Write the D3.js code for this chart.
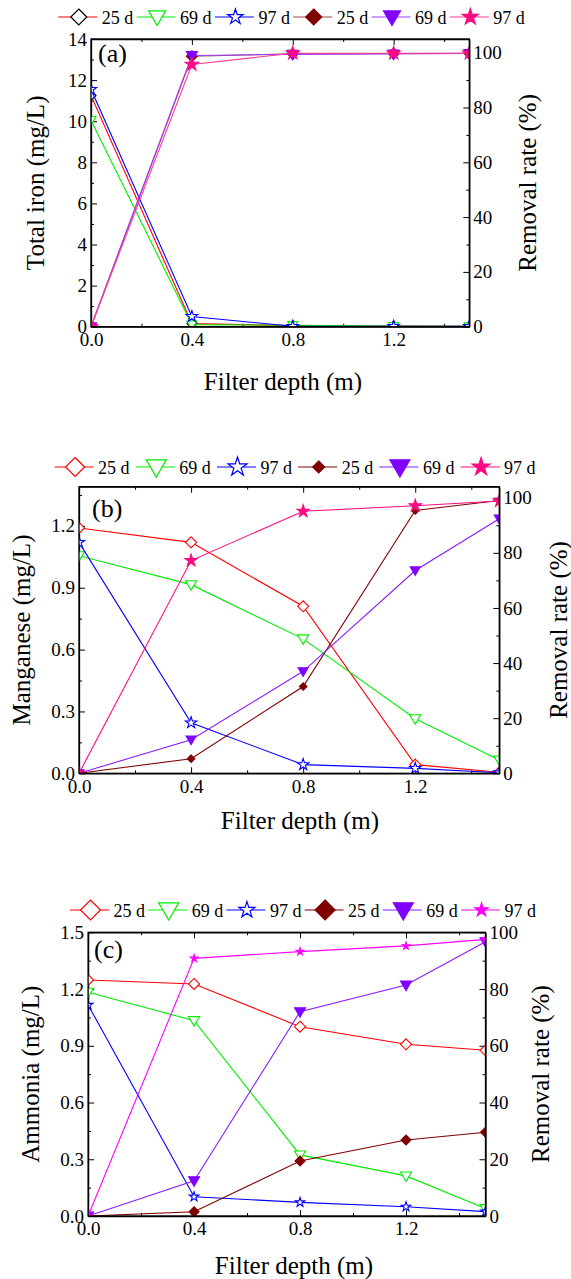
<!DOCTYPE html>
<html><head><meta charset="utf-8">
<script src="https://cdn.jsdelivr.net/npm/d3@7"></script>
<style>
body{margin:0;background:#fff}
</style>
</head><body>
<svg id="chart" width="571" height="1279"></svg>
<script>
// ---------------- data ----------------
const depth = [0, 0.4, 0.8, 1.2, 1.5];
const legendLabels = ["25 d", "69 d", "97 d", "25 d", "69 d", "97 d"];
const xTicks = [0, 0.4, 0.8, 1.2];
const xMinorTicks = [0.2, 0.6, 1.0, 1.4];
const removalTicks = [0, 20, 40, 60, 80, 100];
const removalMinorTicks = [10, 30, 50, 70, 90];

// (a) Total iron
const ironConc25 = [11.25, 0.15, 0.05, 0.03, 0.02];
const ironConc69 = [10.05, 0.10, 0.07, 0.03, 0.02];
const ironConc97 = [11.55, 0.50, 0.02, 0.02, 0.02];
const ironRem25 = [0, 98.7, 99.6, 99.7, 99.8];
const ironRem69 = [0, 99.0, 99.4, 99.5, 99.7];
const ironRem97 = [0, 95.7, 99.8, 99.8, 99.8];
const ironTicks = [0, 2, 4, 6, 8, 10, 12, 14];
const ironMinorTicks = [1, 3, 5, 7, 9, 11, 13];

// (b) Manganese
const mnConc25 = [1.19, 1.12, 0.81, 0.042, 0.005];
const mnConc69 = [1.055, 0.915, 0.652, 0.265, 0.065];
const mnConc97 = [1.12, 0.245, 0.042, 0.024, 0.003];
const mnRem25 = [0, 5.3, 31.5, 95.4, 99.0];
const mnRem69 = [0, 12.2, 37.0, 73.6, 92.4];
const mnRem97 = [0, 77.2, 95.1, 97.1, 98.8];
const mnTicks = [0, 0.3, 0.6, 0.9, 1.2];
const mnMinorTicks = [0.15, 0.45, 0.75, 1.05, 1.35];

// (c) Ammonia
const nhConc25 = [1.248, 1.227, 1.001, 0.908, 0.876];
const nhConc69 = [1.183, 1.033, 0.323, 0.212, 0.04];
const nhConc97 = [1.116, 0.102, 0.072, 0.049, 0.023];
const nhRem25 = [0, 1.5, 19.4, 26.8, 29.5];
const nhRem69 = [0, 12.4, 72.0, 81.4, 96.7];
const nhRem97 = [0, 90.8, 93.2, 95.2, 97.5];
const nhTicks = [0, 0.3, 0.6, 0.9, 1.2, 1.5];
const nhMinorTicks = [0.15, 0.45, 0.75, 1.05, 1.35];

// ---------------- drawing ----------------
const FONT = '"Liberation Serif"';
const svg = d3.select("#chart");

function shapePath(type, r) {
  if (type === "diamond") return `M0,${-r}L${r},0L0,${r}L${-r},0Z`;
  if (type === "tri") return `M${-r},${-r*0.72}L${r},${-r*0.72}L0,${r}Z`;
  if (type === "star") return d3.symbol(d3.symbolStar).size(r*r/0.8908)();
  return "";
}

function txt(sel, size) {
  return sel.style("font-family", FONT).style("font-size", size + "px").style("fill", "#000");
}

let clipId = 0;
function panel(cfg) {
  const {left, right, top, bottom} = cfg.box;
  const g = svg.append("g");
  const x = d3.scaleLinear().domain([0, 1.5]).range([left, right]);
  const yL = d3.scaleLinear().domain(cfg.leftDomain).range([bottom, top]);
  const yR = d3.scaleLinear().domain(cfg.rightDomain).range([bottom, top]);

  function styleAxis(sel, labels) {
    sel.select(".domain").attr("stroke", "#000").attr("stroke-width", 1.3);
    sel.selectAll(".tick line").attr("stroke", "#000").attr("stroke-width", 1);
    if (!labels) sel.selectAll(".tick text").remove();
    else txt(sel.selectAll(".tick text"), 19);
  }
  // bottom
  g.append("g").attr("transform", `translate(0,${bottom})`)
    .call(d3.axisBottom(x).tickValues(xTicks).tickFormat(d3.format(".1f")).tickSize(-6).tickSizeOuter(0).tickPadding(6))
    .call(s => styleAxis(s, true));
  g.append("g").attr("transform", `translate(0,${bottom})`)
    .call(d3.axisBottom(x).tickValues(xMinorTicks).tickSize(-3).tickSizeOuter(0))
    .call(s => { styleAxis(s, false); s.select(".domain").remove(); });
  // top
  g.append("g").attr("transform", `translate(0,${top})`)
    .call(d3.axisTop(x).tickValues(xTicks).tickSize(-6).tickSizeOuter(0))
    .call(s => styleAxis(s, false));
  g.append("g").attr("transform", `translate(0,${top})`)
    .call(d3.axisTop(x).tickValues(xMinorTicks).tickSize(-3).tickSizeOuter(0))
    .call(s => { styleAxis(s, false); s.select(".domain").remove(); });
  // left
  g.append("g").attr("transform", `translate(${left},0)`)
    .call(d3.axisLeft(yL).tickValues(cfg.leftTicks).tickFormat(cfg.leftFmt).tickSize(-6).tickSizeOuter(0).tickPadding(4))
    .call(s => styleAxis(s, true));
  g.append("g").attr("transform", `translate(${left},0)`)
    .call(d3.axisLeft(yL).tickValues(cfg.leftMinor).tickSize(-3).tickSizeOuter(0))
    .call(s => { styleAxis(s, false); s.select(".domain").remove(); });
  // right
  g.append("g").attr("transform", `translate(${right},0)`)
    .call(d3.axisRight(yR).tickValues(removalTicks).tickSize(-6).tickSizeOuter(0).tickPadding(4))
    .call(s => styleAxis(s, true));
  g.append("g").attr("transform", `translate(${right},0)`)
    .call(d3.axisRight(yR).tickValues(removalMinorTicks).tickSize(-3).tickSizeOuter(0))
    .call(s => { styleAxis(s, false); s.select(".domain").remove(); });

  // clip
  const cid = "clip" + (clipId++);
  g.append("clipPath").attr("id", cid).append("rect")
    .attr("x", left).attr("y", top).attr("width", right - left).attr("height", bottom - top);
  const plot = g.append("g").attr("clip-path", `url(#${cid})`);

  cfg.series.forEach(s => {
    const y = s.axis === "L" ? yL : yR;
    const pts = depth.map((d, i) => [x(d), y(s.values[i])]);
    plot.append("path").attr("d", d3.line()(pts)).attr("fill", "none")
      .attr("stroke", s.line).attr("stroke-width", 1.1);
    plot.selectAll(null).data(pts).enter().append("path")
      .attr("d", shapePath(s.shape, s.r))
      .attr("transform", p => `translate(${p[0]},${p[1]})`)
      .attr("fill", s.fill).attr("stroke", s.stroke).attr("stroke-width", 1.1);
  });

  // frame on top
  g.append("rect").attr("x", left).attr("y", top).attr("width", right - left).attr("height", bottom - top)
    .attr("fill", "none").attr("stroke", "#000").attr("stroke-width", 1.3);

  // legend
  cfg.series.forEach((s, i) => {
    const lx = cfg.legend.x + i * cfg.legend.step;
    const ly = cfg.legend.y;
    g.append("line").attr("x1", lx).attr("x2", lx + 39).attr("y1", ly).attr("y2", ly)
      .attr("stroke", s.line).attr("stroke-width", 1.1);
    g.append("path").attr("d", shapePath(s.shape, s.lr))
      .attr("transform", `translate(${lx + 20.5},${ly})`)
      .attr("fill", s.fill).attr("stroke", s.stroke).attr("stroke-width", 1.2);
    txt(g.append("text").attr("x", lx + 43.5).attr("y", ly + 6.5), 18).text(legendLabels[i]);
  });

  // panel tag
  txt(g.append("text").attr("x", cfg.tag.x).attr("y", cfg.tag.y), 26).text(cfg.tag.text);

  // titles
  txt(g.append("text").attr("text-anchor", "middle")
    .attr("transform", `translate(${cfg.leftTitleX},${(top + bottom) / 2}) rotate(-90)`)
    .attr("dy", "0.35em"), 25).text(cfg.leftTitle);
  txt(g.append("text").attr("text-anchor", "middle")
    .attr("transform", `translate(${cfg.rightTitleX},${(top + bottom) / 2}) rotate(-90)`)
    .attr("dy", "0.35em"), 25).text("Removal rate (%)");
  txt(g.append("text").attr("text-anchor", "middle")
    .attr("x", cfg.xTitleX).attr("y", cfg.xTitleY), 25).text("Filter depth (m)");
}

panel({
  box: {left: 91, right: 469.3, top: 39, bottom: 326.7},
  leftDomain: [0, 14], rightDomain: [0, 105],
  leftTicks: ironTicks, leftMinor: ironMinorTicks, leftFmt: d3.format("d"),
  leftTitle: "Total iron (mg/L)", leftTitleX: 35, rightTitleX: 527, xTitleX: 283, xTitleY: 390,
  tag: {text: "(a)", x: 98, y: 62},
  legend: {x: 58.3, y: 17, step: 78.3},
  series: [
    {values: ironConc25, axis: "L", shape: "diamond", fill: "#fff", stroke: "#000", line: "#ff0000", r: 5, lr: 8},
    {values: ironConc69, axis: "L", shape: "tri", fill: "#fff", stroke: "#00ee00", line: "#00ee00", r: 5, lr: 8.5},
    {values: ironConc97, axis: "L", shape: "star", fill: "#fff", stroke: "#0000ff", line: "#0000ff", r: 6, lr: 8},
    {values: ironRem25, axis: "R", shape: "diamond", fill: "#800000", stroke: "#800000", line: "#a04848", r: 5.5, lr: 8},
    {values: ironRem69, axis: "R", shape: "tri", fill: "#8000ff", stroke: "#8000ff", line: "#9a3cff", r: 5.5, lr: 8.5},
    {values: ironRem97, axis: "R", shape: "star", fill: "#ff0a80", stroke: "#ff0a80", line: "#ff3c96", r: 7, lr: 8.5}
  ]
});

panel({
  box: {left: 79, right: 499.3, top: 486.7, bottom: 773.3},
  leftDomain: [0, 1.39], rightDomain: [0, 104],
  leftTicks: mnTicks, leftMinor: mnMinorTicks, leftFmt: d3.format(".1f"),
  leftTitle: "Manganese (mg/L)", leftTitleX: 21.5, rightTitleX: 558, xTitleX: 300, xTitleY: 829,
  tag: {text: "(b)", x: 92, y: 517},
  legend: {x: 54.6, y: 467, step: 81.2},
  series: [
    {values: mnConc25, axis: "L", shape: "diamond", fill: "#fff", stroke: "#ff0000", line: "#ff0000", r: 5.5, lr: 9.5},
    {values: mnConc69, axis: "L", shape: "tri", fill: "#fff", stroke: "#00ee00", line: "#00ee00", r: 5.5, lr: 10},
    {values: mnConc97, axis: "L", shape: "star", fill: "#fff", stroke: "#0000ff", line: "#0000ff", r: 6, lr: 10},
    {values: mnRem25, axis: "R", shape: "diamond", fill: "#800000", stroke: "#800000", line: "#800000", r: 3.8, lr: 6},
    {values: mnRem69, axis: "R", shape: "tri", fill: "#8000ff", stroke: "#8000ff", line: "#8a1cff", r: 5, lr: 10},
    {values: mnRem97, axis: "R", shape: "star", fill: "#ff0a80", stroke: "#ff0a80", line: "#ff0a80", r: 6.5, lr: 9.5}
  ]
});

panel({
  box: {left: 88.1, right: 485.5, top: 932.3, bottom: 1216},
  leftDomain: [0, 1.5], rightDomain: [0, 100],
  leftTicks: nhTicks, leftMinor: nhMinorTicks, leftFmt: d3.format(".1f"),
  leftTitle: "Ammonia (mg/L)", leftTitleX: 30, rightTitleX: 540, xTitleX: 294, xTitleY: 1274,
  tag: {text: "(c)", x: 94, y: 958},
  legend: {x: 70, y: 910, step: 78.2},
  series: [
    {values: nhConc25, axis: "L", shape: "diamond", fill: "#fff", stroke: "#ff0000", line: "#ff0000", r: 5.5, lr: 10},
    {values: nhConc69, axis: "L", shape: "tri", fill: "#fff", stroke: "#00ee00", line: "#00ee00", r: 5.5, lr: 10},
    {values: nhConc97, axis: "L", shape: "star", fill: "#fff", stroke: "#0000ff", line: "#0000ff", r: 5, lr: 8.5},
    {values: nhRem25, axis: "R", shape: "diamond", fill: "#800000", stroke: "#800000", line: "#800000", r: 5, lr: 10},
    {values: nhRem69, axis: "R", shape: "tri", fill: "#8000ff", stroke: "#8000ff", line: "#8a1cff", r: 5.5, lr: 10},
    {values: nhRem97, axis: "R", shape: "star", fill: "#ff00ff", stroke: "#ff00ff", line: "#ff00ff", r: 4, lr: 7}
  ]
});
</script>
</body></html>
